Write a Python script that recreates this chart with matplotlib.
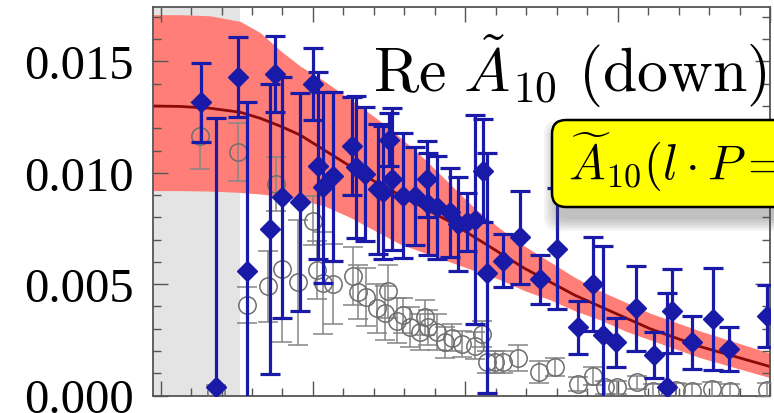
import matplotlib
matplotlib.use("Agg")
import matplotlib.pyplot as plt
from matplotlib.patches import FancyBboxPatch
from matplotlib.transforms import IdentityTransform
from matplotlib.ticker import MultipleLocator, FormatStrFormatter

plt.rcParams['mathtext.fontset'] = 'cm'
plt.rcParams['font.family'] = ['Liberation Serif', 'DejaVu Serif']

# fitted curve with its error band
band_x = [-0.05, 0.127, 0.324, 0.522, 0.653, 0.784, 0.915, 1.079, 1.243, 1.407, 1.571, 1.735,
          1.899, 2.063, 2.227, 2.391, 2.556, 2.720, 2.884, 3.048, 3.212, 3.376, 3.540, 3.770, 4.00]
band_mid = [0.01300, 0.01298, 0.01290, 0.01272, 0.01245, 0.01210, 0.01170, 0.01100, 0.01030, 0.00960,
            0.00900, 0.00840, 0.00780, 0.00710, 0.00640, 0.00570, 0.00510, 0.00450, 0.00400, 0.00350,
            0.00300, 0.00260, 0.00220, 0.00175, 0.00130]
band_hi = [0.01710, 0.01710, 0.01705, 0.01680, 0.01630, 0.01550, 0.01480, 0.01410, 0.01330, 0.01250,
           0.01160, 0.01060, 0.00950, 0.00840, 0.00750, 0.00670, 0.00600, 0.00530, 0.00470, 0.00420,
           0.00370, 0.00330, 0.00290, 0.00240, 0.00190]
band_lo = [0.00920, 0.00920, 0.00918, 0.00912, 0.00905, 0.00895, 0.00880, 0.00850, 0.00800, 0.00740,
           0.00680, 0.00640, 0.00600, 0.00560, 0.00520, 0.00470, 0.00430, 0.00380, 0.00340, 0.00290,
           0.00250, 0.00210, 0.00170, 0.00125, 0.00080]

# down-quark data (blue diamonds)
down_x = [0.267, 0.366, 0.508, 0.567, 0.716, 0.751, 0.795, 0.915, 1.000, 1.035,
          1.068, 1.130, 1.254, 1.283, 1.342, 1.429, 1.462, 1.501, 1.517, 1.593,
          1.670, 1.747, 1.757, 1.812, 1.900, 1.954, 2.009, 2.064, 2.118, 2.140,
          2.247, 2.359, 2.490, 2.600, 2.742, 2.836, 2.906, 2.989, 3.120, 3.239,
          3.322, 3.355, 3.486, 3.624, 3.733, 3.978]
down_y = [0.01317, 0.00037, 0.01429, 0.00560, 0.00748, 0.01444, 0.00890, 0.00868, 0.01399, 0.01032,
          0.00935, 0.00984, 0.01119, 0.01025, 0.00995, 0.00927, 0.00912, 0.01149, 0.00972, 0.00897,
          0.00897, 0.00972, 0.00860, 0.00845, 0.00823, 0.00770, 0.00778, 0.00790, 0.01010, 0.00550,
          0.00605, 0.00710, 0.00523, 0.00660, 0.00306, 0.00500, 0.00270, 0.00239, 0.00392, 0.00182,
          0.00040, 0.00380, 0.00239, 0.00343, 0.00209, 0.00358]
down_err = [0.00177, 0.01210, 0.00180, 0.00760, 0.00650, 0.00170, 0.00540, 0.00490, 0.00160, 0.00420,
            0.00430, 0.00380, 0.00220, 0.00320, 0.00300, 0.00290, 0.00300, 0.00120, 0.00320, 0.00280,
            0.00220, 0.00170, 0.00230, 0.00230, 0.00200, 0.00210, 0.00130, 0.00470, 0.00230, 0.00540,
            0.00120, 0.00210, 0.00110, 0.00270, 0.00120, 0.00210, 0.00400, 0.00110, 0.00190, 0.00105,
            0.00420, 0.00190, 0.00120, 0.00230, 0.00100, 0.00140]

# comparison data (open grey circles)
ref_x = [0.257, 0.366, 0.508, 0.567, 0.705, 0.757, 0.795, 0.904, 1.002, 1.025,
         1.068, 1.132, 1.260, 1.296, 1.348, 1.418, 1.473, 1.495, 1.550, 1.593,
         1.637, 1.702, 1.735, 1.757, 1.812, 1.867, 1.913, 1.976, 2.064, 2.110,
         2.140, 2.195, 2.249, 2.346, 2.486, 2.589, 2.742, 2.840, 2.917, 2.994,
         3.125, 3.234, 3.322, 3.383, 3.486, 3.617, 3.737, 3.978]
ref_y = [0.01167, 0.00016, 0.01092, 0.00405, 0.00490, 0.00950, 0.00568, 0.00508, 0.00785, 0.00565,
         0.00505, 0.00500, 0.00535, 0.00465, 0.00443, 0.00392, 0.00370, 0.00467, 0.00336, 0.00360,
         0.00306, 0.00285, 0.00351, 0.00306, 0.00285, 0.00239, 0.00260, 0.00231, 0.00224, 0.00276,
         0.00149, 0.00149, 0.00152, 0.00168, 0.00104, 0.00127, 0.00052, 0.00089, 0.00037, 0.00037,
         0.00059, 0.00022, 0.00022, 0.00025, 0.00022, 0.00030, 0.00022, 0.00025]
ref_err = [0.00150, 0.00030, 0.00130, 0.00080, 0.00160, 0.00120, 0.00330, 0.00280, 0.00110, 0.00130,
           0.00230, 0.00180, 0.00130, 0.00120, 0.00130, 0.00110, 0.00120, 0.00120, 0.00100, 0.00080,
           0.00090, 0.00080, 0.00080, 0.00080, 0.00080, 0.00070, 0.00060, 0.00060, 0.00060, 0.00060,
           0.00050, 0.00050, 0.00050, 0.00060, 0.00050, 0.00040, 0.00030, 0.00040, 0.00030, 0.00030,
           0.00030, 0.00030, 0.00030, 0.00030, 0.00030, 0.00030, 0.00030, 0.00030]

cut_x = 0.518

W, H = 774, 414
fig = plt.figure(figsize=(W / 100, H / 100), dpi=100)
ax = fig.add_axes([153 / W, 17.5 / H, 617 / W, 388.5 / H])

ax.axvspan(-0.05, cut_x, color='#e4e4e4', lw=0, zorder=0)
ax.fill_between(band_x, band_lo, band_hi, color='#ff7f78', lw=0, zorder=1)
ax.plot(band_x, band_mid, color='#8a0a0a', lw=2.0, zorder=2)

ax.errorbar(ref_x, ref_y, yerr=ref_err, fmt='o', mfc='none', mec='#6e6e6e', ms=12.5, mew=1.1,
            ecolor='#858585', elinewidth=1.1, capsize=7, capthick=1.1, zorder=3)
ax.errorbar(down_x, down_y, yerr=down_err, fmt='D', color='#1a1aa8', ms=10.5,
            elinewidth=2.3, capsize=7, capthick=2.3, zorder=4)

ax.set_xlim(-0.05, 4.0)
ax.set_ylim(0, 0.017445)
ax.xaxis.set_major_locator(MultipleLocator(1))
ax.xaxis.set_minor_locator(MultipleLocator(0.2))
ax.yaxis.set_major_locator(MultipleLocator(0.005))
ax.yaxis.set_minor_locator(MultipleLocator(0.001))
ax.yaxis.set_major_formatter(FormatStrFormatter('%.3f'))
ax.tick_params(which='both', direction='in', top=True, right=True, color='#555555', width=1.0)
ax.tick_params(which='major', length=11)
ax.tick_params(which='minor', length=6)
ax.tick_params(axis='x', labelbottom=False)
ax.tick_params(axis='y', pad=14, labelsize=35)
for sp in ax.spines.values():
    sp.set_color('#555555')
    sp.set_linewidth(1.3)

fig.text(373 / W, 1 - 92 / H, r'$\mathrm{Re}\ \tilde{A}_{10}\ (\mathrm{down})$',
         fontsize=44.5, ha='left', va='baseline', zorder=4)

# call-out box with a soft drop shadow, in pixel coordinates
px = IdentityTransform()
box_x0, box_y0, box_w, box_h = 552, H - 208, 280, 87
for i in range(7):
    grow = 2 * i
    fig.add_artist(FancyBboxPatch((box_x0 + 4 - grow, box_y0 - 12 - grow), box_w + 2 * grow, box_h + 2 * grow,
                                  boxstyle='round,pad=0,rounding_size=14', transform=px,
                                  facecolor='#505050', edgecolor='none', alpha=0.06, zorder=5))
fig.add_artist(FancyBboxPatch((box_x0, box_y0), box_w, box_h,
                              boxstyle='round,pad=0,rounding_size=14', transform=px,
                              facecolor='#ffff00', edgecolor='black', lw=1.8, zorder=6))
fig.text(568 / W, 1 - 180 / H, r'$\widetilde{A}_{10}(l\cdot P=$', fontsize=35,
         ha='left', va='baseline', zorder=7)

fig.savefig('out.png', dpi=100)
